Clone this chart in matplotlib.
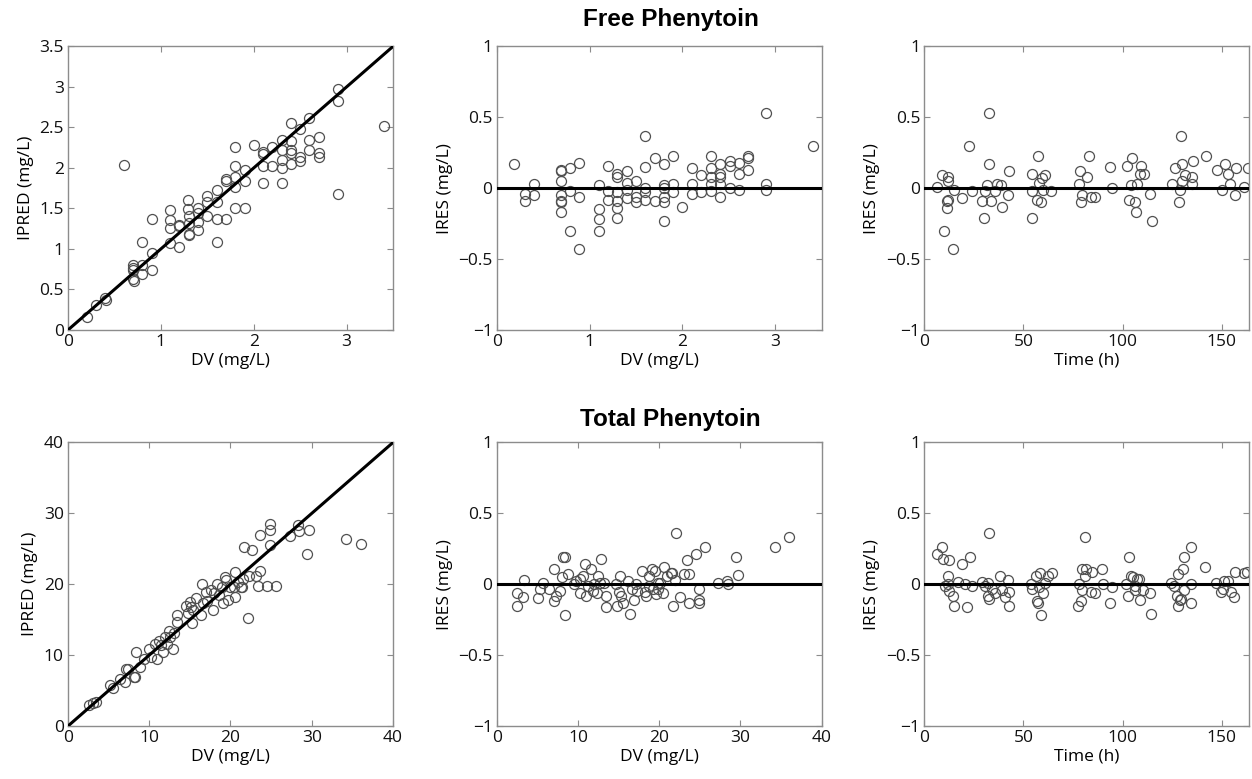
import numpy as np
import matplotlib
matplotlib.use("Agg")
import matplotlib.pyplot as plt

plt.rcParams['font.family'] = ['Open Sans', 'DejaVu Sans']

# ---- Free phenytoin: IPRED vs DV ----
free_dv = [0.20, 0.30, 0.40, 0.41, 0.60, 0.70, 0.70, 0.70, 0.70, 0.71, 0.80, 0.80, 0.80,
           0.90, 0.90, 0.90, 1.10, 1.10, 1.10, 1.10, 1.20, 1.20, 1.20, 1.29, 1.29, 1.30,
           1.30, 1.30, 1.30, 1.40, 1.40, 1.40, 1.40, 1.50, 1.50, 1.50, 1.60, 1.60, 1.60,
           1.60, 1.70, 1.70, 1.70, 1.80, 1.80, 1.80, 1.80, 1.80, 1.91, 1.91, 1.91, 2.00,
           2.10, 2.10, 2.10, 2.10, 2.20, 2.20, 2.30, 2.30, 2.30, 2.30, 2.30, 2.40, 2.40,
           2.40, 2.40, 2.40, 2.50, 2.50, 2.50, 2.60, 2.60, 2.60, 2.70, 2.70, 2.70, 2.91,
           2.91, 2.91, 3.40]
free_ipred = [0.165, 0.31, 0.40, 0.37, 2.04, 0.80, 0.76, 0.74, 0.63, 0.60, 1.08, 0.80, 0.69,
              1.37, 0.95, 0.74, 1.48, 1.36, 1.26, 1.07, 1.30, 1.28, 1.02, 1.61, 1.49, 1.41,
              1.32, 1.19, 1.17, 1.51, 1.44, 1.33, 1.23, 1.65, 1.58, 1.41, 1.73, 1.58, 1.37,
              1.08, 1.86, 1.84, 1.37, 2.26, 2.02, 1.89, 1.77, 1.51, 1.98, 1.84, 1.50, 2.28,
              2.20, 2.17, 2.03, 1.82, 2.26, 2.02, 2.35, 2.22, 2.10, 2.00, 1.82, 2.55, 2.33,
              2.22, 2.18, 2.05, 2.48, 2.14, 2.08, 2.62, 2.35, 2.22, 2.38, 2.19, 2.14, 2.98,
              2.83, 1.68, 2.52]

# ---- Free phenytoin: IRES vs DV ----
free_res_dv = [0.19, 0.30, 0.30, 0.40, 0.40, 0.69, 0.69, 0.69, 0.69, 0.69, 0.69, 0.69, 0.79,
               0.79, 0.79, 0.89, 0.89, 0.89, 1.10, 1.10, 1.10, 1.10, 1.20, 1.20, 1.20, 1.30,
               1.30, 1.30, 1.30, 1.30, 1.30, 1.40, 1.40, 1.40, 1.40, 1.50, 1.50, 1.50, 1.60,
               1.60, 1.60, 1.60, 1.60, 1.70, 1.70, 1.80, 1.80, 1.80, 1.80, 1.80, 1.80, 1.90,
               1.90, 1.90, 2.00, 2.10, 2.10, 2.10, 2.20, 2.20, 2.31, 2.31, 2.31, 2.31, 2.31,
               2.40, 2.40, 2.40, 2.40, 2.40, 2.51, 2.51, 2.51, 2.61, 2.61, 2.61, 2.71, 2.71,
               2.71, 2.90, 2.90, 2.90, 3.41]
free_res = [0.17, -0.04, -0.09, 0.03, -0.05, 0.13, 0.12, 0.05, -0.05, -0.09, -0.10, -0.17,
            0.14, -0.02, -0.30, 0.18, -0.06, -0.43, 0.02, -0.15, -0.22, -0.30, 0.16, -0.02,
            -0.08, 0.10, 0.08, -0.03, -0.09, -0.14, -0.21, 0.12, 0.04, -0.01, -0.07, 0.05,
            -0.06, -0.10, 0.37, 0.15, 0.00, -0.03, -0.08, 0.21, -0.09, 0.17, 0.02, 0.00,
            -0.06, -0.10, -0.23, 0.23, 0.03, -0.03, -0.13, 0.14, 0.03, -0.04, 0.09, -0.03,
            0.23, 0.14, 0.08, 0.03, -0.02, 0.17, 0.10, 0.08, 0.03, -0.06, 0.19, 0.16, 0.00,
            0.18, 0.10, -0.01, 0.23, 0.21, 0.13, 0.53, 0.03, -0.01, 0.30]

# ---- Free phenytoin: IRES vs time ----
free_time = [6.2, 8.8, 12.1, 12.1, 11.3, 12.1, 11.3, 10.1, 14.6, 15.2, 18.9, 22.7, 24.2,
             29.0, 30.1, 30.6, 31.5, 32.7, 32.7, 33.7, 35.4, 36.5, 38.7, 39.1, 42.4, 42.9,
             54.2, 54.2, 54.5, 57.2, 56.7, 57.6, 58.9, 59.3, 61.0, 60.1, 64.0, 78.6, 79.0,
             78.1, 79.5, 82.3, 83.2, 84.2, 86.3, 93.8, 94.6, 102.5, 104.7, 103.5, 104.4,
             106.4, 106.9, 107.2, 108.6, 109.2, 110.6, 114.0, 114.8, 124.9, 126.3, 128.3,
             129.1, 129.6, 130.0, 130.0, 131.3, 135.0, 135.0, 135.4, 142.1, 147.6, 150.2,
             151.9, 153.0, 154.4, 156.6, 157.2, 161.4, 163.3]
free_time_res = [0.01, 0.09, 0.08, 0.05, -0.09, -0.085, -0.14, -0.30, -0.43, -0.01, -0.07,
                 0.30, -0.02, -0.09, -0.21, -0.02, 0.02, 0.53, 0.17, -0.09, -0.02, 0.03,
                 0.02, -0.13, -0.05, 0.12, -0.21, -0.02, 0.10, 0.23, -0.08, 0.04, -0.10,
                 0.07, 0.09, -0.01, -0.02, 0.12, -0.10, 0.03, -0.05, 0.08, 0.23, -0.06,
                 -0.06, 0.15, 0.00, 0.16, 0.21, -0.08, 0.02, -0.10, -0.17, 0.03, 0.10,
                 0.16, 0.10, -0.04, -0.23, 0.03, 0.14, -0.10, -0.01, 0.37, 0.17, 0.05,
                 0.09, 0.03, 0.08, 0.19, 0.23, 0.13, -0.01, 0.17, 0.10, 0.03, -0.05, 0.14,
                 0.01, 0.14]

# ---- Total phenytoin: IPRED vs DV ----
tot_dv = [2.6, 3.1, 3.5, 5.2, 5.6, 6.4, 7.0, 7.1, 7.4, 8.1, 8.3, 8.4, 8.9, 9.3, 10.0,
          10.7, 10.9, 11.2, 11.7, 11.9, 12.2, 12.4, 12.9, 13.1, 13.4, 13.4, 14.5, 14.8,
          15.0, 15.3, 15.4, 15.7, 16.4, 16.5, 17.0, 17.1, 17.8, 18.0, 18.3, 18.9, 19.1,
          19.3, 19.5, 19.7, 19.9, 20.4, 20.5, 20.6, 20.9, 21.4, 21.6, 21.7, 22.1, 22.3,
          22.6, 23.1, 23.4, 23.6, 23.6, 24.5, 24.9, 24.9, 24.9, 25.6, 27.3, 28.3, 28.4,
          29.4, 29.7, 34.2, 36.0, 15.2, 17.6, 18.6, 21.3, 12.5, 11.5, 10.2, 16.6]
tot_ipred = [3.0, 3.3, 3.4, 5.8, 5.4, 6.7, 6.2, 8.0, 8.0, 6.9, 6.9, 10.5, 8.3, 9.4, 10.9,
             11.6, 9.4, 12.0, 10.5, 12.6, 11.6, 13.4, 10.8, 13.1, 14.7, 15.7, 17.0, 16.0,
             17.5, 14.5, 16.3, 18.0, 15.6, 20.1, 18.9, 17.7, 16.3, 18.7, 20.1, 19.6, 17.3,
             21.0, 20.6, 17.8, 19.6, 19.6, 21.7, 18.2, 20.3, 19.6, 20.7, 25.3, 15.3, 21.2,
             24.8, 21.1, 19.7, 21.9, 27.0, 19.7, 28.5, 27.7, 25.6, 19.7, 26.8, 28.4, 27.5,
             24.2, 27.7, 26.4, 25.7, 16.8, 19.2, 18.5, 19.6, 12.6, 11.4, 9.8, 17.3]

# ---- Total phenytoin: IRES vs DV ----
tot_res_dv = [2.5, 2.5, 3.2, 3.4, 5.1, 5.3, 5.7, 6.5, 7.0, 7.1, 7.3, 7.8, 8.1, 8.2, 8.4,
              8.4, 8.8, 9.5, 9.8, 10.2, 10.3, 10.6, 10.9, 11.0, 11.3, 11.6, 11.8, 12.0,
              12.3, 12.5, 12.7, 12.9, 13.2, 13.4, 13.4, 14.7, 14.8, 15.0, 15.2, 15.3, 15.6,
              16.2, 16.4, 16.6, 16.9, 17.2, 17.3, 17.9, 18.2, 18.4, 18.7, 18.8, 19.1, 19.3,
              19.5, 19.6, 19.8, 19.9, 20.1, 20.5, 20.6, 21.0, 21.4, 21.6, 21.7, 21.9, 22.1,
              22.6, 23.1, 23.4, 23.7, 23.7, 24.5, 24.9, 24.9, 24.9, 25.6, 27.2, 28.4, 28.5,
              29.4, 29.7, 34.2, 36.0]
tot_res = [-0.06, -0.15, -0.09, 0.03, -0.10, -0.035, 0.007, -0.03, 0.11, -0.12, -0.08,
           -0.05, 0.05, 0.19, 0.19, -0.22, 0.075, 0.005, 0.02, -0.06, 0.035, 0.06, 0.145,
           -0.08, -0.01, 0.105, -0.05, 0.005, -0.06, 0.06, 0.01, 0.175, 0.007, -0.08, -0.16,
           0.005, -0.15, -0.055, 0.06, -0.08, -0.13, 0.02, -0.21, -0.03, -0.11, 0.00, -0.05,
           0.09, -0.055, -0.08, 0.06, -0.01, 0.105, -0.03, 0.095, -0.07, 0.01, -0.03, 0.007,
           -0.06, 0.125, 0.055, 0.08, 0.08, -0.15, 0.03, 0.36, -0.09, 0.075, 0.17, 0.075,
           -0.13, 0.21, -0.03, -0.11, -0.13, 0.26, 0.007, 0.02, 0.00, 0.195, 0.063, 0.26, 0.33]

# ---- Total phenytoin: IRES vs time ----
tot_time = [6.2, 8.7, 9.6, 10.4, 11.8, 12.1, 12.6, 12.6, 14.6, 15.1, 16.8, 18.8, 20.5,
            21.3, 23.0, 24.2, 28.9, 30.6, 31.9, 32.6, 32.3, 32.6, 33.9, 35.6, 38.1, 39.3,
            40.6, 42.0, 42.8, 42.8, 53.8, 54.4, 56.1, 56.6, 57.1, 57.8, 58.3, 58.8, 60.0,
            60.8, 62.5, 64.2, 77.6, 77.9, 78.8, 79.3, 79.3, 81.0, 81.3, 81.8, 84.0, 84.8,
            86.3, 89.7, 89.9, 93.9, 94.7, 101.9, 102.8, 103.3, 104.5, 105.3, 106.2, 106.5,
            107.5, 108.2, 109.0, 110.4, 113.7, 114.6, 124.6, 126.0, 127.5, 128.0, 128.0,
            129.2, 129.7, 130.5, 131.0, 131.0, 134.7, 134.7, 134.7, 141.8, 147.3, 149.8,
            150.6, 151.2, 153.2, 154.9, 156.2, 156.9, 161.1, 163.0]
tot_time_res = [0.21, 0.26, 0.18, -0.01, 0.00, 0.06, 0.17, -0.05, -0.08, -0.15, 0.016,
                0.145, 0.005, -0.16, 0.19, -0.01, 0.016, -0.01, 0.01, 0.36, -0.08, -0.105,
                -0.035, -0.06, 0.06, -0.04, -0.09, 0.03, -0.055, -0.15, 0.00, -0.03, 0.06,
                -0.12, -0.13, -0.016, 0.08, -0.22, -0.06, 0.007, 0.06, 0.077, -0.15, 0.005,
                -0.12, 0.105, -0.04, 0.33, 0.06, 0.105, -0.055, 0.087, -0.06, 0.11, 0.005,
                -0.13, -0.02, 0.00, -0.08, 0.19, 0.06, 0.05, -0.01, -0.04, 0.035, 0.04,
                -0.11, -0.04, -0.06, -0.21, 0.01, -0.01, -0.08, -0.15, 0.07, -0.11, -0.105,
                0.105, 0.19, -0.04, -0.135, 0.26, 0.00, 0.12, 0.007, -0.055, -0.03, 0.023,
                0.023, -0.055, -0.087, 0.087, 0.082, 0.087]

fig = plt.figure(figsize=(12.52, 7.79), dpi=100)

col_left = [0.0543, 0.3967, 0.7383]
col_w = 0.2596
row_bottom = [0.5764, 0.068]
row_h = 0.3640

marker_kw = dict(marker='o', linestyle='none', markersize=7.2, markerfacecolor='none',
                 markeredgecolor='#505050', markeredgewidth=0.9)


def style_axis(ax):
    for sp in ax.spines.values():
        sp.set_color('#8c8c8c')
        sp.set_linewidth(1.0)
    ax.tick_params(direction='in', top=True, right=True, length=4, width=0.8,
                   color='#8c8c8c', labelsize=12.5, pad=3, labelcolor='#111111')


def fmt(v):
    s = ('%g' % v)
    return s.replace('-', '\u2212')


panels = [
    (0, 0, free_dv, free_ipred, 'DV (mg/L)', 'IPRED (mg/L)', (0, 3.5), (0, 3.5),
     [0, 1, 2, 3], np.arange(0, 3.51, 0.5), 'identity'),
    (0, 1, free_res_dv, free_res, 'DV (mg/L)', 'IRES (mg/L)', (0, 3.5), (-1, 1),
     [0, 1, 2, 3], [-1, -0.5, 0, 0.5, 1], 'zero'),
    (0, 2, free_time, free_time_res, 'Time (h)', 'IRES (mg/L)', (0, 164), (-1, 1),
     [0, 50, 100, 150], [-1, -0.5, 0, 0.5, 1], 'zero'),
    (1, 0, tot_dv, tot_ipred, 'DV (mg/L)', 'IPRED (mg/L)', (0, 40), (0, 40),
     [0, 10, 20, 30, 40], [0, 10, 20, 30, 40], 'identity'),
    (1, 1, tot_res_dv, tot_res, 'DV (mg/L)', 'IRES (mg/L)', (0, 40), (-1, 1),
     [0, 10, 20, 30, 40], [-1, -0.5, 0, 0.5, 1], 'zero'),
    (1, 2, tot_time, tot_time_res, 'Time (h)', 'IRES (mg/L)', (0, 164), (-1, 1),
     [0, 50, 100, 150], [-1, -0.5, 0, 0.5, 1], 'zero'),
]

for r, c, x, y, xl, yl, xlim, ylim, xt, yt, ref in panels:
    ax = fig.add_axes([col_left[c], row_bottom[r], col_w, row_h])
    ax.plot(x, y, **marker_kw, zorder=2)
    if ref == 'identity':
        ax.plot(xlim, ylim, color='black', linewidth=2.2, zorder=3)
    else:
        ax.axhline(0, color='black', linewidth=2.2, zorder=3)
    ax.set_xlim(xlim)
    ax.set_ylim(ylim)
    ax.set_xticks(xt)
    ax.set_yticks(yt)
    ax.set_xticklabels([fmt(v) for v in xt])
    ax.set_yticklabels([fmt(v) for v in yt])
    ax.set_xlabel(xl, fontsize=12.5, labelpad=2)
    ax.set_ylabel(yl, fontsize=12.5, labelpad=4)
    style_axis(ax)

fig.text(0.5355, 0.975, 'Free Phenytoin', ha='center', va='center', fontsize=17.5,
         fontweight='bold', family=['Liberation Sans', 'DejaVu Sans'])
fig.text(0.5355, 0.461, 'Total Phenytoin', ha='center', va='center', fontsize=17.5,
         fontweight='bold', family=['Liberation Sans', 'DejaVu Sans'])

fig.savefig('out.png', dpi=100)
